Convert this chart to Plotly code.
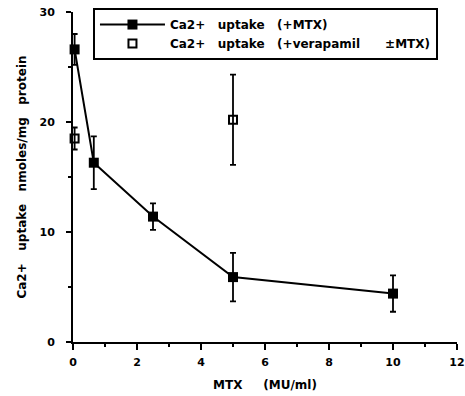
import plotly.graph_objects as go

# Ca2+ uptake as a function of MTX dose
mtx_dose = [0.05, 0.65, 2.5, 5.0, 10.0]
uptake_mtx = [26.6, 16.3, 11.4, 5.9, 4.4]
uptake_mtx_err = [1.4, 2.4, 1.2, 2.2, 1.65]

vera_dose = [0.05, 5.0]
uptake_vera = [18.5, 20.2]
uptake_vera_err = [1.0, 4.1]

x_ticks = [0, 2, 4, 6, 8, 10, 12]
x_tick_text = ["0", "2", "4", "6", "8", "10", "12"]
y_ticks = [0, 10, 20, 30]

FONT = "DejaVu Sans"
fig = go.Figure()

fig.add_trace(go.Scatter(
    x=mtx_dose, y=uptake_mtx,
    mode="lines+markers",
    name="<b>Ca2+   uptake   (+MTX)</b>",
    line=dict(color="black", width=2),
    marker=dict(symbol="square", size=10, color="black"),
    error_y=dict(type="data", array=uptake_mtx_err, color="black",
                 thickness=1.8, width=3),
    cliponaxis=False,
))

fig.add_trace(go.Scatter(
    x=vera_dose, y=uptake_vera,
    mode="markers",
    name="<b>Ca2+   uptake   (+verapamil      ±MTX)</b>",
    marker=dict(symbol="square-open", size=8, color="black",
                line=dict(width=2, color="black")),
    error_y=dict(type="data", array=uptake_vera_err, color="black",
                 thickness=1.8, width=3),
    cliponaxis=False,
))

fig.update_layout(
    width=465, height=396,
    margin=dict(l=73, r=8, t=12, b=54, autoexpand=False),
    paper_bgcolor="white", plot_bgcolor="white",
    font=dict(family=FONT, color="black", size=10),
    showlegend=True,
    legend=dict(
        x=0.052, y=1.012, xanchor="left", yanchor="top",
        bordercolor="black", borderwidth=2, bgcolor="white",
        font=dict(family=FONT, size=12, color="black"),
        itemwidth=65, tracegroupgap=0,
    ),
    xaxis=dict(
        range=[0, 12], showgrid=False, zeroline=False, automargin=False,
        showline=True, linecolor="black", linewidth=2,
        ticks="outside", ticklen=6, tickwidth=2, tickcolor="black",
        tickvals=x_ticks, ticktext=[f"<b>{t}</b>" for t in x_tick_text],
        tickfont=dict(family=FONT, size=11), ticklabelstandoff=3,
        minor=dict(dtick=1, ticks="outside", ticklen=3, tickwidth=2, tickcolor="black"),
        title=dict(text="<b>MTX     (MU/ml)</b>", font=dict(family=FONT, size=12), standoff=12),
    ),
    yaxis=dict(
        range=[0, 30], showgrid=False, zeroline=False, automargin=False,
        showline=True, linecolor="black", linewidth=2,
        ticks="outside", ticklen=5, tickwidth=2, tickcolor="black",
        tickvals=y_ticks, ticktext=[f"<b>{t}</b>" for t in y_ticks],
        tickfont=dict(family=FONT, size=11), ticklabelstandoff=9,
        minor=dict(tickvals=[5, 15, 25], ticks="outside", ticklen=3, tickwidth=2, tickcolor="black"),
        title=dict(text="<b>Ca2+   uptake   nmoles/mg   protein</b>", font=dict(family=FONT, size=12), standoff=10),
    ),
)

fig.write_html("out.html")
